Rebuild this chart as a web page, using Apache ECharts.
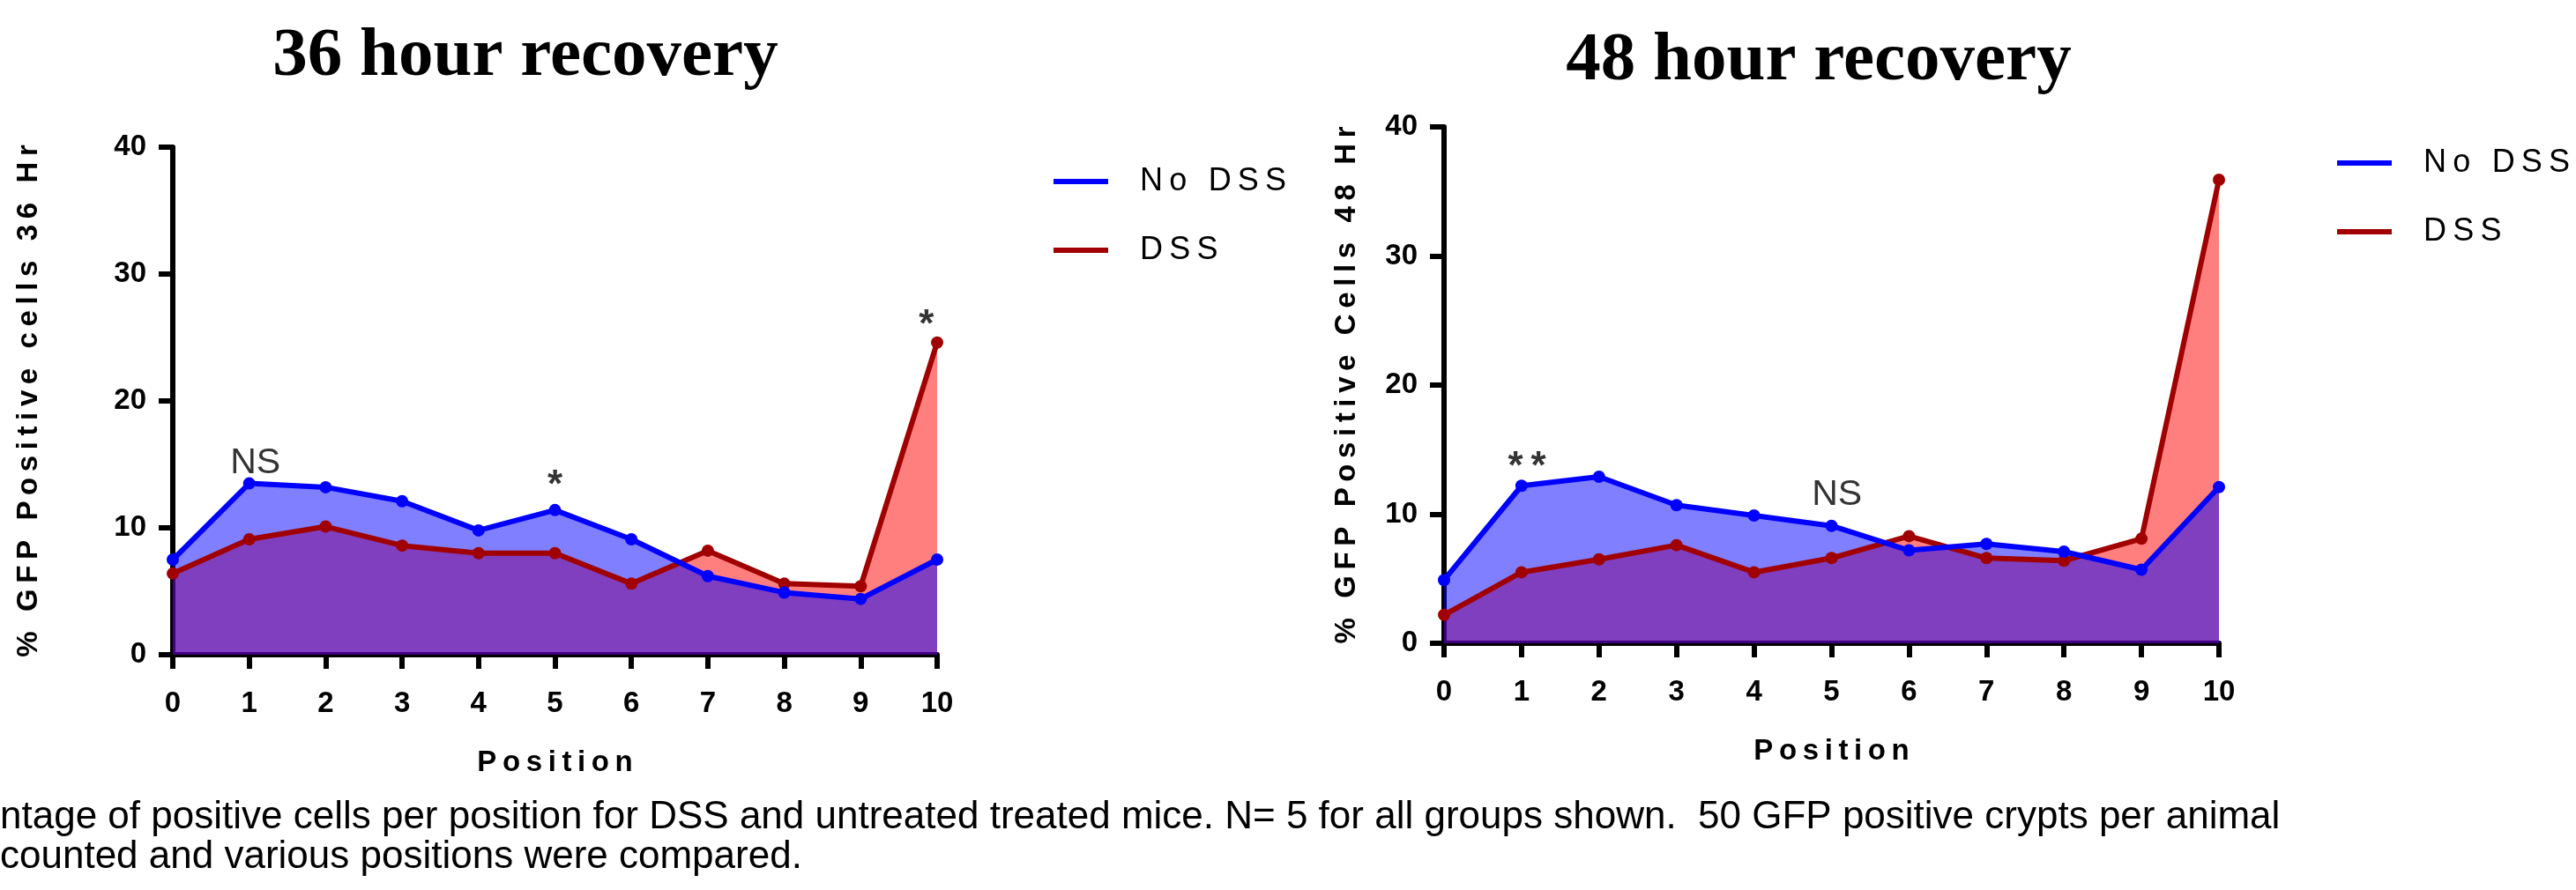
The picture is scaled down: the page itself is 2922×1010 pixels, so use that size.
<!DOCTYPE html>
<html>
<head>
<meta charset="utf-8">
<script src="https://cdn.jsdelivr.net/npm/echarts@6/dist/echarts.min.js"></script>
<style>
html,body{margin:0;padding:0;background:#fff;}
#c{width:2922px;height:1010px;}
</style>
</head>
<body>
<div id="c"></div>
<script>
// ---- data ----
const positions = [0, 1, 2, 3, 4, 5, 6, 7, 8, 9, 10];
const noDss36 = [7.5, 13.5, 13.2, 12.1, 9.8, 11.4, 9.1, 6.2, 4.9, 4.4, 7.5];
const dss36   = [6.4, 9.1, 10.1, 8.6, 8.0, 8.0, 5.6, 8.2, 5.6, 5.4, 24.6];
const noDss48 = [4.9, 12.2, 12.9, 10.7, 9.9, 9.1, 7.2, 7.7, 7.1, 5.7, 12.1];
const dss48   = [2.2, 5.5, 6.5, 7.6, 5.5, 6.6, 8.3, 6.6, 6.4, 8.1, 35.9];
const yTickMin = 0, yTickMax = 40, yTickStep = 10;
const titles = ['36 hour recovery', '48 hour recovery'];
const yNames = ['% GFP Positive cells 36 Hr', '% GFP Positive Cells 48 Hr'];
const xName = 'Position';
const seriesNames = ['No DSS', 'DSS'];
const notes36X = [1.08, 5.0, 9.86];
const notes36Y = [15.1, 13.3, 25.9];
const notes36Text = ['NS', '*', '*'];
const notes48X = [1.07, 5.07, 10.05];
const notes48Y = [13.6, 11.5, 36.8];
const notes48Text = ['**', 'NS', '**'];
const captionLines = [
  'ntage of positive cells per position for DSS and untreated treated mice. N= 5 for all groups shown.  50 GFP positive crypts per animal',
  'counted and various positions were compared.'
];

// ---- helpers ----
const TS = '\u2009';
const spaced = s => s.split('').join(TS);
const pairs = (xs, ys) => xs.map((x, i) => [x, ys[i]]);
const FONT = "'Liberation Sans', Arial, sans-serif";

const grids = [
  {left: 196, top: 167, width: 867, height: 576, outerBoundsMode: 'none'},
  {left: 1638, top: 144, width: 879, height: 586, outerBoundsMode: 'none'}
];
const yNameGaps = [147, 94];

function xAxisOf(i) {
  return {
    gridIndex: i, type: 'value', min: 0, max: 10, interval: 1,
    axisLine: {show: true, lineStyle: {color: '#000', width: 6}},
    axisTick: {show: true, length: 16, lineStyle: {color: '#000', width: 6}},
    axisLabel: {margin: 39, fontSize: 33, fontWeight: 'bold', color: '#000', fontFamily: FONT},
    splitLine: {show: false},
    name: spaced(xName), nameLocation: 'middle', nameGap: 106,
    nameTextStyle: {fontSize: 33, fontWeight: 'bold', color: '#000', fontFamily: FONT}
  };
}
function yAxisOf(i) {
  return {
    gridIndex: i, type: 'value', min: yTickMin, max: yTickMax, interval: yTickStep,
    axisLine: {show: true, lineStyle: {color: '#000', width: 6}},
    axisTick: {show: true, length: 16, lineStyle: {color: '#000', width: 6}},
    axisLabel: {margin: 30, fontSize: 33, fontWeight: 'bold', color: '#000', fontFamily: FONT},
    splitLine: {show: false},
    name: spaced(yNames[i]), nameLocation: 'middle', nameRotate: 90, nameGap: yNameGaps[i],
    nameTextStyle: {fontSize: 33, fontWeight: 'bold', color: '#000', fontFamily: FONT}
  };
}
function areaSeries(i, name, vals, color) {
  return {
    type: 'line', name: name + ' area', xAxisIndex: i, yAxisIndex: i,
    data: pairs(positions, vals), symbol: 'none', silent: true,
    lineStyle: {width: 0}, areaStyle: {color: color, opacity: 0.5}, z: 2
  };
}
function lineSeries(i, name, vals, color, z) {
  return {
    type: 'line', name: name, xAxisIndex: i, yAxisIndex: i,
    data: pairs(positions, vals), symbol: 'circle', symbolSize: 14,
    lineStyle: {width: 6, color: color}, itemStyle: {color: color, borderWidth: 0}, z: z
  };
}
function notesSeries(i, xs, ys, texts) {
  return {
    type: 'scatter', xAxisIndex: i, yAxisIndex: i, symbolSize: 1, silent: true,
    itemStyle: {color: 'rgba(0,0,0,0)'}, z: 6,
    data: xs.map((x, k) => ({
      value: [x, ys[k]], name: texts[k],
      label: texts[k] === 'NS'
        ? {fontSize: 41, fontWeight: 'normal'}
        : {fontSize: 44, fontWeight: 'bold'}
    })),
    label: {show: true, position: 'inside', color: '#000', fontFamily: FONT,
      formatter: p => p.name === 'NS' ? p.name : p.name.split('').join(TS)}
  };
}
function legendOf(left, top) {
  return {
    orient: 'vertical', left: left, top: top, padding: 0,
    data: seriesNames, icon: 'rect', itemWidth: 62, itemHeight: 6, itemGap: 38,
    itemStyle: {borderWidth: 0},
    formatter: n => spaced(n),
    textStyle: {fontSize: 36, color: '#000', fontFamily: FONT, lineHeight: 40, padding: [0, 0, 0, 31]}
  };
}

const option = {
  animation: false,
  backgroundColor: '#fff',
  textStyle: {fontFamily: FONT},
  grid: grids,
  xAxis: [xAxisOf(0), xAxisOf(1)],
  yAxis: [yAxisOf(0), yAxisOf(1)],
  legend: [legendOf(1195, 186), legendOf(2651, 165)],
  series: [
    areaSeries(0, 'DSS', dss36, '#FF0000'),
    areaSeries(0, 'No DSS', noDss36, '#0000FF'),
    lineSeries(0, 'DSS', dss36, '#A00000', 3),
    lineSeries(0, 'No DSS', noDss36, '#0000FF', 4),
    notesSeries(0, notes36X, notes36Y, notes36Text),
    areaSeries(1, 'DSS', dss48, '#FF0000'),
    areaSeries(1, 'No DSS', noDss48, '#0000FF'),
    lineSeries(1, 'DSS', dss48, '#A00000', 3),
    lineSeries(1, 'No DSS', noDss48, '#0000FF', 4),
    notesSeries(1, notes48X, notes48Y, notes48Text)
  ],
  graphic: [
    {type: 'text', x: 596, y: 65, style: {text: titles[0], fontSize: 79, fontWeight: 'bold',
      fontFamily: "'Liberation Serif', 'DejaVu Serif', serif", fill: '#000', align: 'center', verticalAlign: 'middle'}},
    {type: 'text', x: 2063, y: 70, style: {text: titles[1], fontSize: 79, fontWeight: 'bold',
      fontFamily: "'Liberation Serif', 'DejaVu Serif', serif", fill: '#000', align: 'center', verticalAlign: 'middle'}},
    {type: 'text', x: 0, y: 928, style: {text: captionLines[0], fontSize: 44,
      fontFamily: FONT, fill: '#000', align: 'left', verticalAlign: 'middle'}},
    {type: 'text', x: 0, y: 973, style: {text: captionLines[1], fontSize: 44,
      fontFamily: FONT, fill: '#000', align: 'left', verticalAlign: 'middle'}}
  ]
};

const chart = echarts.init(document.getElementById('c'), null, {renderer: 'canvas'});
chart.setOption(option);
</script>
</body>
</html>
